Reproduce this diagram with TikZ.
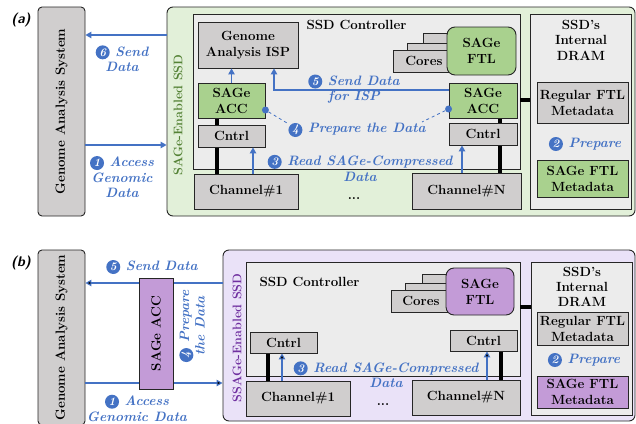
\documentclass[tikz,border=0pt]{standalone}
\usetikzlibrary{arrows.meta}
\definecolor{bx}{RGB}{208,206,206}
\definecolor{ct}{RGB}{236,236,236}
\definecolor{gl}{RGB}{226,240,217}
\definecolor{gr}{RGB}{169,209,142}
\definecolor{pl}{RGB}{234,226,248}
\definecolor{pu}{RGB}{195,155,215}
\definecolor{bl}{RGB}{68,114,196}
\definecolor{gt}{RGB}{84,130,53}
\definecolor{ptx}{RGB}{112,48,160}
\definecolor{bd}{RGB}{38,38,38}
\newcommand\bxf{\fontsize{13.3}{16}\selectfont\bfseries}
\newcommand\blf{\fontsize{13.6}{15.5}\selectfont\bfseries\itshape}
\newcommand\cn[1]{\tikz[baseline=(n.base)]\node[circle,fill=bl,text=white,inner sep=0pt,minimum size=14pt,font=\fontsize{11.5}{11.5}\selectfont\bfseries\itshape](n){#1};}
\pgfdeclarelayer{back}\pgfdeclarelayer{mid}\pgfsetlayers{back,mid,main}
\begin{document}
\begin{tikzpicture}[x=1pt,y=-1pt,
  box/.style={draw=bd,fill=bx,line width=0.9pt,inner sep=0pt,align=center,font=\bxf},
  gbox/.style={box,fill=gr}, pbox/.style={box,fill=pu}, cbox/.style={box,fill=ct},
  outer/.style={draw=bd,line width=0.9pt,rounded corners=6pt,inner sep=0pt},
  blab/.style={text=bl,font=\blf,align=center,inner sep=0pt},
  barrow/.style={draw=bl,line width=1.1pt,-{Triangle[length=6pt,width=6.5pt]}},
  bus/.style={line width=3.5pt,black},
  bdot/.style={circle,fill=bl,inner sep=0pt,minimum size=7pt},
  ttl/.style={font=\bxf,align=center,inner sep=0pt},
  plab/.style={font=\fontsize{14}{14}\selectfont\sffamily\bfseries\itshape},
]
\useasboundingbox (0,0) rectangle (636,423);
% ================= (a) =================
\node[plab] (la) at (21,20) {(a)};
\begin{pgfonlayer}{back}
\node[outer,fill=gl,minimum width=468,minimum height=209] (ssdA) at (401,111.5) {};
\node[cbox,minimum width=327,minimum height=155] (ctrlA) at (356.5,91.5) {};
\node[cbox,minimum width=101,minimum height=195] (dramA) at (581,111.5) {};
\end{pgfonlayer}
\node[ttl] (tctrlA) at (356.5,24.5) {SSD Controller};
\node[ttl,font=\fontsize{13.3}{15.5}\selectfont\bfseries] (tdramA) at (581,40) {SSD’s\\Internal\\DRAM};
\node[ttl,font=\fontsize{12.5}{12.5}\selectfont\bfseries,text=gt,rotate=90] (tssdA) at (178,115) {SAGe-Enabled SSD};
\node[box,rounded corners=4pt,minimum width=47,minimum height=209] (gasA) at (61.5,111.5) {};
\node[ttl,rotate=90] (tgasA) at (gasA.center) {Genome Analysis System};
\node[box,minimum width=100,minimum height=46] (ispA) at (248,45) {Genome\\Analysis ISP};
\node[gbox,minimum width=67,minimum height=35] (accA1) at (231.5,100.5) {SAGe\\ACC};
\node[box,minimum width=67,minimum height=22] (cntA1) at (231.5,136) {Cntrl};
\node[box,minimum width=104,minimum height=35] (ch1A) at (246,191.5) {Channel\#1};
\node[box,minimum width=109,minimum height=36] (chNA) at (466.5,191) {Channel\#N};
\node[gbox,minimum width=68,minimum height=35] (accA2) at (483,100.5) {SAGe\\ACC};
\node[box,minimum width=68,minimum height=22] (cntA2) at (483,134) {Cntrl};
\node[ttl] (dotsA) at (354,199) {...};
\node[box,minimum width=52,minimum height=22] (cbA3) at (449,44) {};
\node[box,minimum width=58,minimum height=22] (cbA2) at (436,54) {};
\node[box,minimum width=62,minimum height=22] (coresA) at (424,61) {Cores};
\node[gbox,rounded corners=8pt,minimum width=69,minimum height=48] (ftlA) at (481.5,51) {SAGe\\FTL};
\node[box,minimum width=91,minimum height=41] (regA) at (582.5,102.5) {Regular FTL\\Metadata};
\node[gbox,minimum width=91,minimum height=37] (sftlA) at (582.5,178.5) {SAGe FTL\\Metadata};
\begin{pgfonlayer}{mid}
\draw[bus] (accA1.south -| 217,0) -- (ch1A.north -| 217,0);
\draw[bus] (accA2.south -| 500,0) -- (chNA.north -| 500,0);
\draw[bus] (ctrlA.east |- 0,100) -- (dramA.west |- 0,100);
\end{pgfonlayer}
\draw[barrow] (ssdA.west |- 0,35) -- (gasA.east |- 0,35);
\draw[barrow] (gasA.east |- 0,145) -- (ssdA.west |- 0,145);
\draw[barrow] (accA1.north) -- (ispA.south -| accA1.north);
\draw[barrow] (accA2.west |- 0,90) -| ([xshift=26pt]ispA.south);
\draw[barrow] (ch1A.north -| 253,0) -- (cntA1.south -| 253,0);
\draw[barrow] (chNA.north -| 462,0) -- (cntA2.south -| 462,0);
\node[blab] (l6) at (122,58.5) {\cn{6} Send\\Data};
\node[blab] (l1) at (122,177) {\cn{1} Access\\Genomic\\Data};
\node[blab] (l5) at (354,89) {\cn{5} Send Data\\for ISP};
\node[blab] (l4) at (357,130) {\cn{4} Prepare the Data};
\node[blab] (l3) at (360,168) {\cn{3} Read SAGe-Compressed\\Data};
\node[blab] (l2) at (585,144) {\cn{2} Prepare};
\node[bdot] (dA1) at (accA1.east |- 0,110) {};
\node[bdot] (dA2) at (accA2.west |- 0,109) {};
\coordinate (e4a) at (287,123);
\coordinate (e4b) at (422,122);
\draw[bl,dashed,line width=0.8pt] (dA1) -- (e4a);
\draw[bl,dashed,line width=0.8pt] (dA2) -- (e4b);
% ================= (b) =================
\node[plab] (lb) at (21,263) {(b)};
\begin{pgfonlayer}{back}
\node[outer,fill=pl,minimum width=412,minimum height=171] (ssdB) at (429,335.5) {};
\node[cbox,minimum width=274,minimum height=114] (ctrlB) at (383,319) {};
\node[cbox,minimum width=101,minimum height=153] (dramB) at (581.5,338.5) {};
\end{pgfonlayer}
\node[ttl] (tctrlB) at (309.5,282) {SSD Controller};
\node[ttl,font=\fontsize{13.3}{15}\selectfont\bfseries] (tdramB) at (582,287) {SSD’s\\Internal\\DRAM};
\node[ttl,font=\fontsize{12.5}{12.5}\selectfont\bfseries,text=ptx,rotate=90] (tssdB) at (237,338) {SSAGe-Enabled SSD};
\node[box,rounded corners=4pt,minimum width=47,minimum height=175] (gasB) at (61.5,337.5) {};
\node[ttl,rotate=90] (tgasB) at (gasB.center) {Genome Analysis System};
\node[box,minimum width=53,minimum height=22] (cbB3) at (448.5,285) {};
\node[box,minimum width=57,minimum height=22] (cbB2) at (433.5,294) {};
\node[box,minimum width=60,minimum height=22] (coresB) at (421,301) {Cores};
\node[pbox,rounded corners=8pt,minimum width=68,minimum height=47] (ftlB) at (480,291.5) {SAGe\\FTL};
\node[box,minimum width=67,minimum height=21] (cntB1) at (283.5,342.5) {Cntrl};
\node[box,minimum width=67,minimum height=21] (cntB2) at (483.5,340.5) {Cntrl};
\node[box,minimum width=104,minimum height=35] (ch1B) at (298,398.5) {Channel\#1};
\node[box,minimum width=108,minimum height=35] (chNB) at (466,397.5) {Channel\#N};
\node[ttl] (dotsB) at (383,405) {...};
\node[box,minimum width=91,minimum height=33] (regB) at (582.5,328.5) {Regular FTL\\Metadata};
\node[pbox,minimum width=91,minimum height=32] (sftlB) at (582.5,392) {SAGe FTL\\Metadata};
\begin{pgfonlayer}{mid}
\draw[bus] (cntB1.south -| 268,0) -- (ch1B.north -| 268,0);
\draw[bus] (cntB2.south -| 501,0) -- (chNB.north -| 501,0);
\draw[bus] (ctrlB.east |- 0,307) -- (dramB.west |- 0,307);
\end{pgfonlayer}
\draw[barrow] (ch1B.north -| 282,0) -- (cntB1.south -| 282,0);
\draw[barrow] (chNB.north -| 487,0) -- (cntB2.south -| 487,0);
\draw[barrow] (ssdB.west |- 0,283) -- (gasB.east |- 0,283);
\draw[barrow] (gasB.east |- 0,383) -- (ssdB.west |- 0,383);
\node[pbox,minimum width=34,minimum height=111] (accB) at (156,333.5) {};
\node[ttl,rotate=90] (taccB) at (accB.center) {SAGe ACC};
\node[blab] (l5b) at (152,267) {\cn{5} Send Data};
\node[blab] (l1b) at (137,408) {\cn{1} Access\\Genomic Data};
\node[blab,rotate=90] (l4b) at (192,326) {\cn{4} Prepare\\the Data};
\node[blab] (l3b) at (386,374.5) {\cn{3} Read SAGe-Compressed\\Data};
\node[blab] (l2b) at (584,360) {\cn{2} Prepare};
\end{tikzpicture}
\end{document}
